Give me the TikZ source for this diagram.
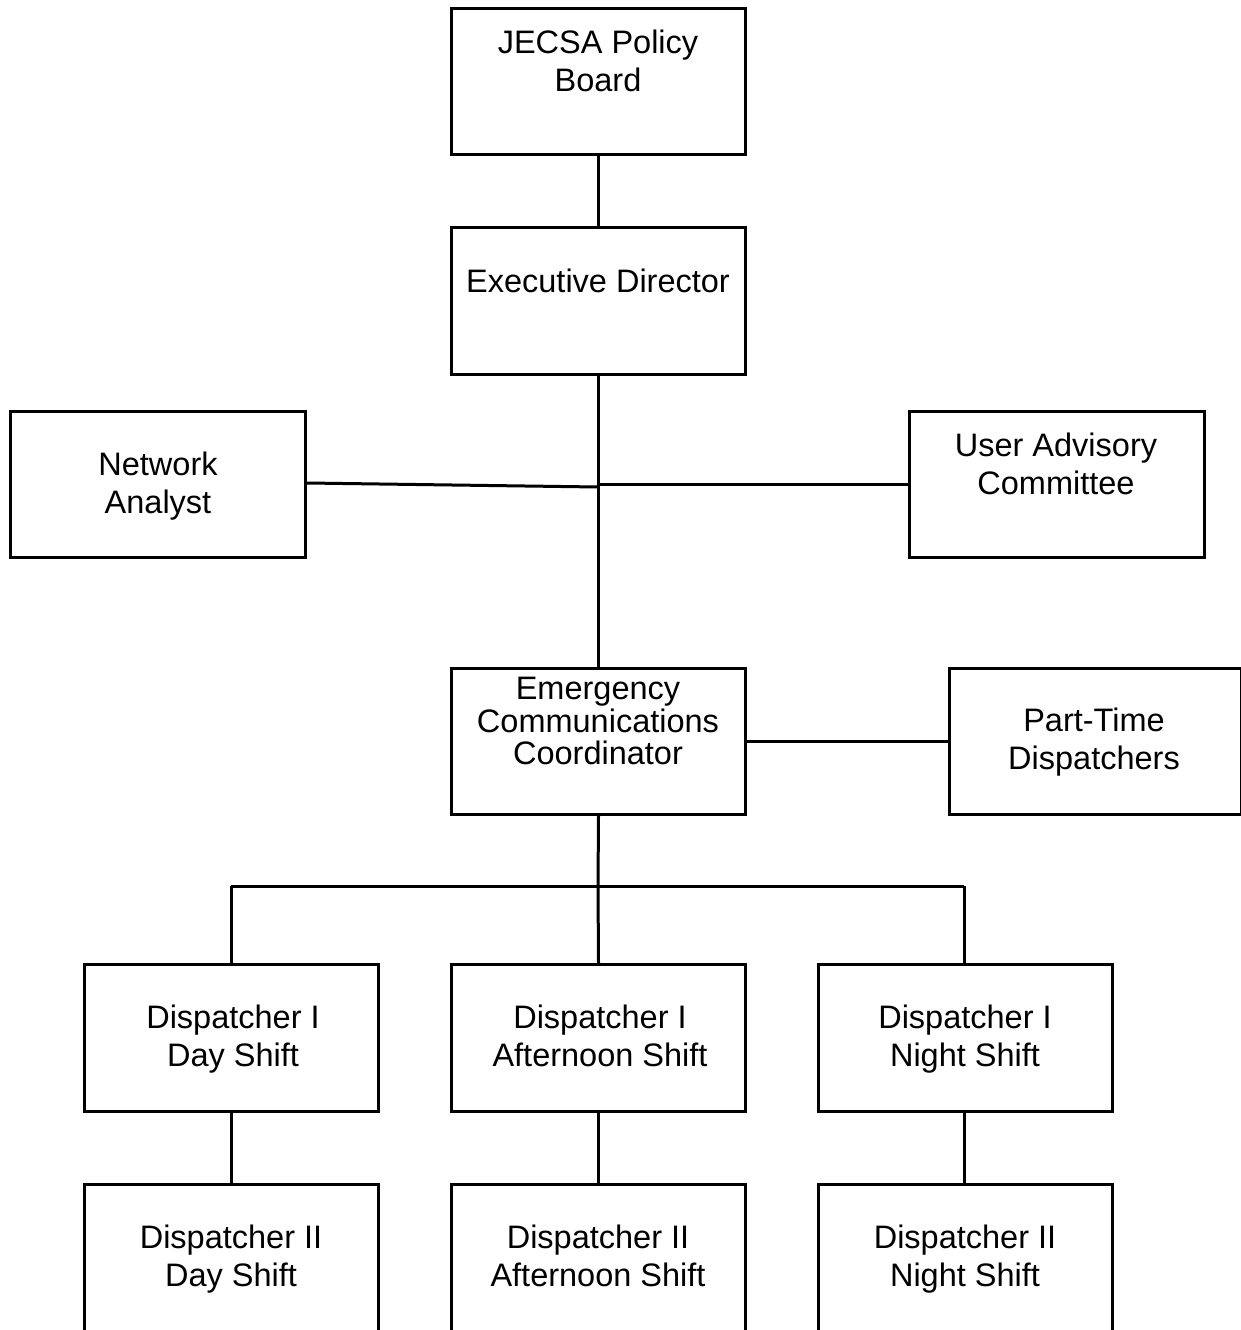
\documentclass[tikz,border=0pt]{standalone}
\usepackage{fontspec}
\setmainfont{Liberation Sans}
\begin{document}
\begin{tikzpicture}[x=1pt,y=-1pt,
  boxst/.style={draw=black,line width=3pt,fill=white},
  lbl/.style={align=center,inner sep=0pt,font=\fontsize{32.5}{38.5}\selectfont},
  lbltight/.style={align=center,inner sep=0pt,font=\fontsize{32.5}{32.5}\selectfont},
  conn/.style={draw=black,line width=3pt}]
\useasboundingbox[fill=white] (0,0) rectangle (1241,1330);
\clip (0,0) rectangle (1241,1330);
% boxes
\node[boxst,minimum width=294pt,minimum height=146pt,anchor=north west] (board) at (450,7) {};
\node[boxst,minimum width=294pt,minimum height=147pt,anchor=north west] (ed) at (450,226) {};
\node[boxst,minimum width=295pt,minimum height=146pt,anchor=north west] (na) at (9,410) {};
\node[boxst,minimum width=295pt,minimum height=146pt,anchor=north west] (uac) at (908,410) {};
\node[boxst,minimum width=294pt,minimum height=146pt,anchor=north west] (ecc) at (450,667) {};
\node[boxst,minimum width=292pt,minimum height=146pt,anchor=north west] (pt) at (948,667) {};
\node[boxst,minimum width=294pt,minimum height=147pt,anchor=north west] (d1a) at (83,963) {};
\node[boxst,minimum width=294pt,minimum height=147pt,anchor=north west] (d1b) at (450,963) {};
\node[boxst,minimum width=294pt,minimum height=147pt,anchor=north west] (d1c) at (817,963) {};
\node[boxst,minimum width=294pt,minimum height=160pt,anchor=north west] (d2a) at (83,1183) {};
\node[boxst,minimum width=294pt,minimum height=160pt,anchor=north west] (d2b) at (450,1183) {};
\node[boxst,minimum width=294pt,minimum height=160pt,anchor=north west] (d2c) at (817,1183) {};
% labels
\node[lbl] (tboard) at (598,61) {JECSA Policy\\Board};
\node[lbl] (ted) at (598,281) {Executive Director};
\node[lbl] (tna) at (158,486) {Network\\Analyst};
\node[lbl] (tuac) at (1056,464) {User Advisory\\Committee};
\node[lbltight] (tecc) at (598,721) {Emergency\\Communications\\Coordinator};
\node[lbl] (tpt) at (1094,742) {Part-Time\\Dispatchers};
\node[lbl] (td1a) at (233,1039) {Dispatcher I\\Day Shift};
\node[lbl] (td1b) at (600,1036) {Dispatcher I\\Afternoon Shift};
\node[lbl] (td1c) at (965,1039) {Dispatcher I\\Night Shift};
\node[lbl] (td2a) at (231,1259) {Dispatcher II\\Day Shift};
\node[lbl] (td2b) at (598,1256) {Dispatcher II\\Afternoon Shift};
\node[lbl] (td2c) at (965,1259) {Dispatcher II\\Night Shift};
% junctions
\coordinate (jna) at (598,487);
\coordinate (juac) at (598,484);
\coordinate (jbus) at (598,886);
\coordinate (bl) at (231,886);
\coordinate (br) at (964,886);
% connectors
\draw[conn] (board.south) -- (ed.north);
\draw[conn] (ed.south) -- (ecc.north);
\draw[conn] (na.east |- 0,483) -- (jna);
\draw[conn] (juac) -- (uac.west |- juac);
\draw[conn] (ecc.east) -- (pt.west);
\draw[conn] (ecc.south) -- (jbus);
\draw[conn] (bl) -- (br);
\draw[conn] (bl) -- (bl |- d1a.north);
\draw[conn] (jbus) -- (d1b.north);
\draw[conn] (br) -- (br |- d1c.north);
\draw[conn] (d1a.south -| bl) -- (d2a.north -| bl);
\draw[conn] (d1b.south) -- (d2b.north);
\draw[conn] (d1c.south -| br) -- (d2c.north -| br);
\end{tikzpicture}
\end{document}
